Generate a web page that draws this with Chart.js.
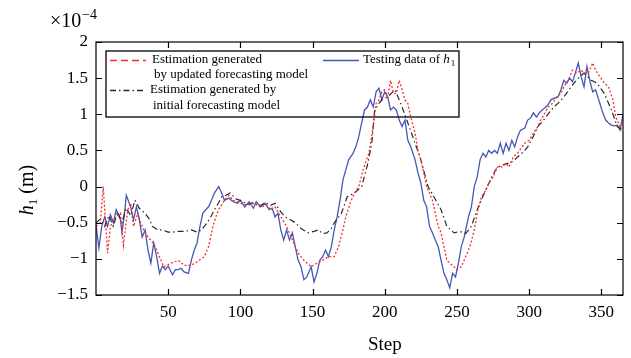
<!DOCTYPE html>
<html>
<head>
<meta charset="utf-8">
<script src="https://cdn.jsdelivr.net/npm/chart.js@4.4.0/dist/chart.umd.min.js"></script>
<style>
  html, body { margin: 0; padding: 0; background: #fff; }
</style>
</head>
<body>
<canvas id="myChart" width="631" height="358"></canvas>
<script>
// setup block - values are in units of 1e-4 m
const xTicks = [50, 100, 150, 200, 250, 300, 350];
const yTicks = [-1.5, -1, -0.5, 0, 0.5, 1, 1.5, 2];

// testing data of h1 (blue solid)
const testSteps = [
  0, 2, 4, 6, 8, 10, 12, 14, 17, 18, 20, 21, 24, 26, 28, 30, 32, 34, 36, 38,
  40, 42, 44, 46, 48, 50, 53, 55, 57, 59, 61, 64, 66, 68, 70, 72, 74, 76, 78, 80,
  82, 85, 87, 89, 92, 95, 98, 100, 103, 106, 109, 111, 114, 117, 120, 122, 124, 126, 128, 130,
  132, 134, 136, 138, 140, 142, 144, 146, 149, 151, 153, 155, 157, 159, 161, 163, 165, 167, 169, 171,
  173, 175, 178, 180, 182, 184, 186, 188, 190, 192, 194, 196, 198, 200, 202, 204, 206, 208, 210, 212,
  214, 216, 218, 221, 223, 225, 227, 229, 231, 233, 235, 237, 239, 241, 243, 245, 247, 249, 251, 253,
  255, 258, 260, 262, 264, 266, 268, 270, 272, 274, 276, 278, 280, 282, 284, 286, 288, 290, 292, 294,
  297, 299, 301, 303, 305, 307, 309, 311, 313, 315, 317, 320, 322, 324, 326, 328, 330, 332, 334, 336,
  338, 340, 342, 344, 346, 349, 351, 353, 355, 357, 359, 361, 363, 365,
];
const testData = [
  -0.53, -0.85, -0.55, -0.42, -0.55, -0.39, -0.5, -0.32, -0.46, -0.64, -0.32, -0.12, -0.28, -0.46, -0.28, -0.46, -0.7, -0.6, -0.88, -1.06,
  -0.78, -0.97, -1.2, -1.1, -1.15, -1.1, -1.22, -1.15, -1.15, -1.13, -1.18, -1.2, -1.02, -0.88, -0.78, -0.55, -0.37, -0.32, -0.28, -0.19,
  -0.09, 0.0, -0.09, -0.19, -0.16, -0.21, -0.23, -0.19, -0.28, -0.21, -0.3, -0.21, -0.28, -0.23, -0.32, -0.3, -0.42, -0.37, -0.6, -0.74,
  -0.6, -0.74, -0.64, -0.83, -1.02, -1.11, -1.29, -1.25, -1.11, -1.32, -1.2, -1.02, -0.97, -0.88, -0.97, -0.83, -0.6, -0.42, -0.19, 0.09,
  0.23, 0.37, 0.46, 0.55, 0.69, 0.88, 1.06, 1.1, 1.2, 1.1, 1.31, 1.36, 1.2, 1.31, 1.24, 1.06, 1.1, 1.06, 0.92, 0.83,
  0.92, 0.64, 0.55, 0.37, 0.19, 0.05, -0.19, -0.28, -0.55, -0.64, -0.74, -0.83, -1.02, -1.2, -1.29, -1.4, -1.2, -1.25, -1.06, -0.83,
  -0.7, -0.42, -0.28, 0.0, 0.13, 0.37, 0.46, 0.41, 0.5, 0.46, 0.5, 0.46, 0.6, 0.46, 0.6, 0.5, 0.64, 0.55, 0.69, 0.78,
  0.81, 0.92, 0.95, 1.02, 0.96, 1.02, 1.06, 1.09, 1.13, 1.2, 1.22, 1.24, 1.34, 1.47, 1.43, 1.5, 1.45, 1.57, 1.71, 1.52,
  1.38, 1.66, 1.47, 1.31, 1.34, 1.15, 1.02, 0.92, 0.88, 0.85, 0.84, 0.85, 0.78, 1.0,
];

// estimation by updated forecasting model (red)
const updSteps = [
  0, 3, 5, 7, 8, 10, 12, 14, 17, 19, 22, 24, 26, 29, 31, 33, 36, 38, 41, 45,
  47, 52, 57, 61, 66, 70, 75, 78, 81, 83, 85, 89, 92, 95, 99, 103, 107, 111, 115, 118,
  121, 124, 128, 132, 136, 140, 144, 149, 153, 157, 161, 165, 168, 171, 173, 176, 179, 182, 185, 188,
  189, 192, 194, 196, 198, 200, 202, 204, 206, 208, 210, 212, 214, 216, 218, 221, 223, 225, 227, 229,
  231, 233, 235, 237, 239, 241, 243, 245, 248, 250, 253, 256, 259, 262, 264, 267, 270, 272, 275, 278,
  281, 284, 286, 289, 292, 295, 297, 300, 303, 306, 308, 311, 313, 316, 319, 322, 324, 327, 330, 333,
  336, 338, 341, 344, 346, 349, 352, 355, 358, 360, 363, 365,
];
const updData = [
  -0.55, -0.5, 0.0, -0.6, -0.92, -0.55, -0.46, -0.42, -0.37, -0.81, -0.32, -0.23, -0.55, -0.37, -0.5, -0.6, -0.7, -0.74, -0.83, -1.02,
  -1.11, -1.06, -1.02, -1.09, -1.09, -1.04, -0.97, -0.83, -0.55, -0.42, -0.32, -0.19, -0.12, -0.19, -0.22, -0.25, -0.25, -0.22, -0.28, -0.25,
  -0.32, -0.28, -0.42, -0.55, -0.74, -0.92, -1.02, -1.11, -1.06, -1.02, -0.97, -0.97, -0.83, -0.6, -0.42, -0.23, -0.09, 0.0, 0.23, 0.41,
  0.46, 0.83, 1.15, 1.2, 1.31, 1.34, 1.24, 1.47, 1.29, 1.29, 1.47, 1.34, 1.2, 1.15, 0.96, 0.74, 0.5, 0.37, 0.19, 0.0,
  -0.09, -0.19, -0.37, -0.55, -0.64, -0.83, -1.02, -1.06, -1.11, -1.15, -1.11, -0.97, -0.83, -0.6, -0.37, -0.14, -0.05, 0.05, 0.13, 0.27,
  0.27, 0.32, 0.27, 0.41, 0.46, 0.55, 0.6, 0.64, 0.74, 0.83, 0.92, 1.02, 1.1, 1.15, 1.24, 1.29, 1.38, 1.47, 1.61, 1.57,
  1.61, 1.57, 1.57, 1.71, 1.61, 1.52, 1.43, 1.38, 1.2, 0.96, 0.83, 0.92,
];

// estimation by initial forecasting model (black dash-dot)
const initSteps = [
  0, 3, 6, 9, 12, 15, 18, 21, 24, 27, 30, 34, 37, 39, 43, 46, 50, 53, 57, 62,
  66, 70, 73, 77, 80, 82, 85, 87, 90, 93, 97, 101, 105, 109, 113, 117, 121, 124, 128, 131,
  134, 138, 142, 147, 151, 154, 157, 160, 163, 165, 170, 174, 179, 184, 188, 191, 193, 196, 198, 202,
  205, 207, 209, 212, 216, 221, 225, 230, 234, 239, 243, 248, 252, 256, 260, 264, 269, 274, 278, 282,
  285, 289, 292, 296, 299, 303, 306, 310, 313, 317, 320, 324, 328, 331, 334, 338, 343, 347, 352, 357,
  361, 365,
];
const initData = [
  -0.5, -0.45, -0.55, -0.4, -0.55, -0.35, -0.5, -0.3, -0.4, -0.19, -0.3, -0.37, -0.45, -0.55, -0.6, -0.6, -0.63, -0.63, -0.62, -0.62,
  -0.6, -0.63, -0.6, -0.5, -0.4, -0.32, -0.22, -0.14, -0.12, -0.09, -0.17, -0.2, -0.25, -0.22, -0.28, -0.22, -0.26, -0.23, -0.35, -0.42,
  -0.45, -0.5, -0.58, -0.64, -0.62, -0.6, -0.65, -0.64, -0.58, -0.5, -0.37, -0.14, -0.09, 0.0, 0.3, 0.6, 1.06, 1.15, 1.2, 1.24,
  1.3, 1.34, 1.25, 1.1, 0.88, 0.6, 0.37, 0.0, -0.14, -0.32, -0.55, -0.64, -0.62, -0.65, -0.55, -0.32, -0.09, 0.13, 0.27, 0.3,
  0.32, 0.35, 0.41, 0.48, 0.55, 0.7, 0.83, 0.92, 1.0, 1.1, 1.15, 1.24, 1.35, 1.43, 1.5, 1.57, 1.47, 1.43, 1.29, 1.06,
  0.83, 0.78,
];

const serif = "'Liberation Serif', 'DejaVu Serif', serif";
const toPoints = (steps, vals) => steps.map((s, i) => ({ x: s, y: vals[i] }));

const data = {
  datasets: [
    {
      label: "Testing data of h1",
      data: toPoints(testSteps, testData),
      borderColor: "rgb(70, 88, 180)",
      borderWidth: 1.3,
      order: 3,
    },
    {
      label: "Estimation generated by initial forecasting model",
      data: toPoints(initSteps, initData),
      borderColor: "rgb(40, 40, 40)",
      borderWidth: 1.2,
      borderDash: [6, 3, 1.5, 3],
      order: 2,
    },
    {
      label: "Estimation generated by updated forecasting model",
      data: toPoints(updSteps, updData),
      borderColor: "rgb(245, 45, 45)",
      borderWidth: 1.3,
      borderDash: [2, 2],
      order: 1,
    },
  ],
};

// plugin - frame, inward ticks, legend and titles
const decorations = {
  id: "decorations",
  afterDraw(chart) {
    const { ctx, chartArea: a, scales } = chart;
    ctx.save();
    ctx.strokeStyle = "#000";
    ctx.lineWidth = 1.2;
    ctx.strokeRect(a.left, a.top, a.right - a.left, a.bottom - a.top);
    ctx.beginPath();
    xTicks.forEach((v) => {
      const px = Math.round(scales.x.getPixelForValue(v)) + 0.5;
      ctx.moveTo(px, a.bottom); ctx.lineTo(px, a.bottom - 6);
      ctx.moveTo(px, a.top); ctx.lineTo(px, a.top + 6);
    });
    yTicks.forEach((v) => {
      const py = Math.round(scales.y.getPixelForValue(v)) + 0.5;
      ctx.moveTo(a.left, py); ctx.lineTo(a.left + 6, py);
      ctx.moveTo(a.right, py); ctx.lineTo(a.right - 6, py);
    });
    ctx.stroke();

    // legend
    ctx.lineWidth = 1.3;
    ctx.strokeRect(106, 51, 353, 66);
    ctx.font = "13px " + serif;
    ctx.fillStyle = "#000";
    ctx.textBaseline = "middle";
    const legendLine = (x1, x2, y, color, dash) => {
      ctx.beginPath();
      ctx.strokeStyle = color;
      ctx.setLineDash(dash);
      ctx.moveTo(x1, y); ctx.lineTo(x2, y);
      ctx.stroke();
      ctx.setLineDash([]);
    };
    legendLine(110, 146, 60.5, "rgb(245, 45, 45)", [7, 4]);
    ctx.fillText("Estimation generated", 152, 60);
    ctx.fillText("by updated forecasting model", 154, 75);
    legendLine(110, 146, 90.5, "rgb(40, 40, 40)", [6, 3, 1.5, 3]);
    ctx.fillText("Estimation generated by", 150, 90);
    ctx.fillText("initial forecasting model", 153, 106);
    legendLine(323, 359, 60.5, "rgb(70, 88, 180)", []);
    ctx.fillText("Testing data of ", 363, 60);
    let w = ctx.measureText("Testing data of ").width;
    ctx.font = "italic 13px " + serif;
    ctx.fillText("h", 363 + w, 60);
    w += ctx.measureText("h").width;
    ctx.font = "9px " + serif;
    ctx.fillText("1", 364 + w, 64);

    // x title
    ctx.font = "19px " + serif;
    ctx.textAlign = "center";
    ctx.textBaseline = "alphabetic";
    ctx.fillText("Step", scales.x.getPixelForValue(200), 350);

    // y title, rotated
    ctx.save();
    ctx.translate(33, 190);
    ctx.rotate(-Math.PI / 2);
    ctx.textAlign = "left";
    const big = "20px " + serif;
    ctx.font = "italic " + big;
    const wh = ctx.measureText("h").width;
    ctx.font = "13px " + serif;
    const w1 = ctx.measureText("1").width;
    ctx.font = big;
    const wm = ctx.measureText(" (m)").width;
    let x0 = -(wh + w1 + wm) / 2;
    ctx.font = "italic " + big;
    ctx.fillText("h", x0, 0);
    ctx.font = "13px " + serif;
    ctx.fillText("1", x0 + wh, 4);
    ctx.font = big;
    ctx.fillText(" (m)", x0 + wh + w1, 0);
    ctx.restore();

    // exponent label
    ctx.textAlign = "left";
    ctx.font = "20px " + serif;
    ctx.fillText("\u00d710", 50, 27);
    ctx.font = "14px " + serif;
    ctx.fillText("\u22124", 82, 19);
    ctx.restore();
  },
};

// config block
const config = {
  type: "line",
  data: data,
  options: {
    responsive: false,
    animation: false,
    layout: { padding: { top: 42, right: 8, left: 0, bottom: 0 } },
    elements: { point: { radius: 0 }, line: { tension: 0 } },
    plugins: { legend: { display: false }, tooltip: { enabled: false } },
    scales: {
      x: {
        type: "linear",
        min: 0,
        max: 365,
        afterBuildTicks: (s) => { s.ticks = xTicks.map((v) => ({ value: v })); },
        afterFit: (s) => { s.height = 63; },
        grid: { display: false, drawTicks: false },
        border: { display: false },
        ticks: { color: "#000", padding: 7, maxRotation: 0, autoSkip: false, font: { family: serif, size: 17 } },
      },
      y: {
        min: -1.5,
        max: 2,
        afterBuildTicks: (s) => { s.ticks = yTicks.map((v) => ({ value: v })); },
        afterFit: (s) => { s.width = 96; },
        grid: { display: false, drawTicks: false },
        border: { display: false },
        ticks: {
          color: "#000",
          padding: 8,
          font: { family: serif, size: 17 },
          callback: (v) => (v < 0 ? "\u2212" + Math.abs(v) : String(v)),
        },
      },
    },
  },
  plugins: [decorations],
};

// render init block
const myChart = new Chart(document.getElementById("myChart"), config);
</script>
</body>
</html>
